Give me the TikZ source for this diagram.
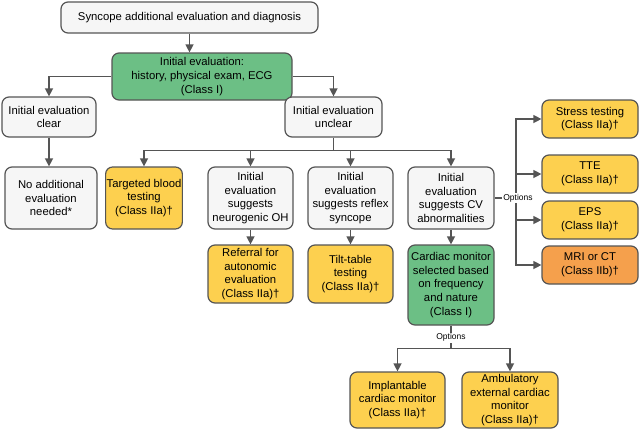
\documentclass[tikz,border=0pt]{standalone}
\usepackage{fontspec}
\setmainfont{Liberation Sans}
\usetikzlibrary{arrows.meta,calc}
\definecolor{bd}{HTML}{555555}
\definecolor{gr}{HTML}{6CBF85}
\definecolor{ye}{HTML}{FDD04F}
\definecolor{og}{HTML}{F5A04C}
\definecolor{wh}{HTML}{F6F6F6}
\begin{document}
\begin{tikzpicture}[x=1pt,y=-1pt,
 box/.style={draw=bd,line width=1.2pt,rounded corners=7pt,align=center,inner sep=1pt,font=\fontsize{11.3}{13.8}\selectfont},
 wbox/.style={box,fill=wh}, gbox/.style={box,fill=gr}, ybox/.style={box,fill=ye}, obox/.style={box,fill=og},
 ln/.style={draw=bd,line width=1.3pt}, ar/.style={ln,-{Triangle[length=8pt,width=8pt]}},
 lab/.style={font=\fontsize{8.5}{10}\selectfont,text=black,fill=white,inner sep=1pt}]
\useasboundingbox (0,0) rectangle (641,432);
\newcommand\bx[6]{\node[#1,minimum width=#4-#2,minimum height=#5-#3] (#6) at ({(#2+#4)/2},{(#3+#5)/2})}
\bx{wbox}{61}{2}{318}{33}{top}{Syncope additional evaluation and diagnosis};
\bx{gbox}{112}{53}{292}{100}{g1}{Initial evaluation:\\history, physical exam, ECG\\(Class I)};
\bx{wbox}{2}{97}{96}{137}{clr}{Initial evaluation\\clear};
\bx{wbox}{285}{97}{382}{137}{unc}{Initial evaluation\\unclear};
\bx{wbox}{5}{167}{97}{229}{noa}{No additional\\evaluation\\needed*};
\bx{ybox}{107}{167}{181}{229}{tbt}{Targeted blood\\testing\\(Class IIa)†};
\bx{wbox}{208}{167}{293}{229}{neu}{Initial\\evaluation\\suggests\\neurogenic OH};
\bx{wbox}{308}{167}{393}{229}{ref}{Initial\\evaluation\\suggests reflex\\syncope};
\bx{wbox}{408}{167}{494}{229}{cv}{Initial\\evaluation\\suggests CV\\abnormalities};
\bx{ybox}{542}{100}{638}{138}{st}{Stress testing\\(Class IIa)†};
\bx{ybox}{542}{155}{638}{193}{tte}{TTE\\(Class IIa)†};
\bx{ybox}{542}{201}{638}{239}{eps}{EPS\\(Class IIa)†};
\bx{obox}{542}{246}{638}{284}{mri}{MRI or CT\\(Class IIb)†};
\bx{ybox}{208}{245}{293}{303}{rfa}{Referral for\\autonomic\\evaluation\\(Class IIa)†};
\bx{ybox}{308}{245}{393}{303}{tilt}{Tilt-table\\testing\\(Class IIa)†};
\bx{gbox}{408}{245}{494}{325}{g2}{Cardiac monitor\\selected based\\on frequency\\and nature\\(Class I)};
\bx{ybox}{350}{372}{445}{428}{imp}{Implantable\\cardiac monitor\\(Class IIa)†};
\bx{ybox}{462}{372}{558}{428}{amb}{Ambulatory\\external cardiac\\monitor\\(Class IIa)†};
\draw[ar] (top.south) -- (top.south|-g1.north);
\draw[ar] (g1.west) -| (clr.north);
\draw[ar] (g1.east) -| (unc.north);
\draw[ar] (clr.south) -- (clr.south|-noa.north);
\coordinate (b) at ($(unc.south)+(0,13)$);
\draw[ln] (unc.south) -- (b);
\foreach \t in {tbt,neu,ref,cv} \draw[ar] (b) -| (\t.north);
\draw[ar] (neu) -- (rfa); \draw[ar] (ref) -- (tilt); \draw[ar] (cv) -- (g2);
\coordinate (o1) at (516,198);
\draw[ln] (cv.east) -- (o1);
\foreach \t in {st,tte,eps,mri} \draw[ar] (o1) |- (\t.west);
\node[lab] at (518,198) {Options};
\coordinate (o2) at ($(g2.south)+(0,23)$);
\draw[ln] (g2.south) -- (o2);
\foreach \t in {imp,amb} \draw[ar] (o2) -| (\t.north);
\node[lab] at ($(g2.south)+(0,12)$) {Options};
\end{tikzpicture}
\end{document}
